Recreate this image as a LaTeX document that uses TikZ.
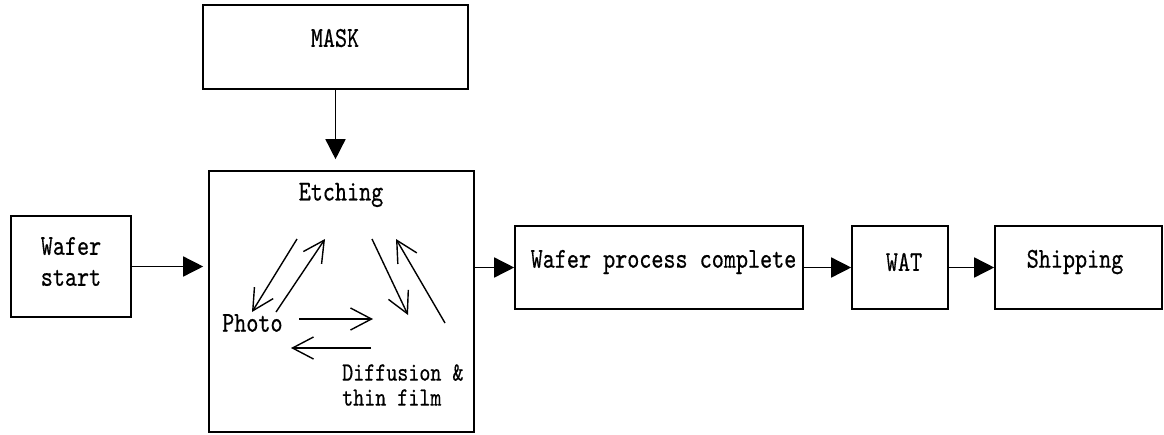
\documentclass[tikz,border=0pt]{standalone}
\usepackage{fontspec}
\newfontfamily\monof{lmmono10-regular.otf}[FakeBold=0.6]
\usetikzlibrary{arrows.meta}
\newcommand\stretchtxt[1]{\scalebox{1}[1.25]{#1}}
\tikzset{
  box/.style={draw, line width=1.6pt, inner sep=0pt, rectangle},
  lbl/.style={inner sep=0pt, font=\fontsize{23}{31}\selectfont\monof},
  flow/.style={line width=1.5pt, -{Triangle[length=20pt,width=20pt]}},
  cyc/.style={line width=1.4pt, -{Straight Barb[length=21pt,width=22pt]}}
}
\begin{document}
\begin{tikzpicture}[x=1pt,y=-1pt]
\useasboundingbox (0,0) rectangle (1164,434);
% boxes
\node[box, minimum width=265pt, minimum height=84pt] (mask) at (335.5,47) {};
\node[box, minimum width=265pt, minimum height=261pt] (etch) at (341.5,301.5) {};
\node[box, minimum width=120pt, minimum height=101pt] (start) at (71,266.5) {};
\node[box, minimum width=288pt, minimum height=83pt] (wpc) at (659,267.5) {};
\node[box, minimum width=96pt, minimum height=83pt] (wat) at (900,267.5) {};
\node[box, minimum width=167pt, minimum height=83pt] (ship) at (1078.5,267.5) {};
% texts
\node[lbl] (tmask) at (335,38) {\stretchtxt{MASK}};
\node[lbl] (tetch) at (341,195) {\stretchtxt{Etching}};
\node[lbl, align=center] (tstart) at (71,261.5) {\stretchtxt{Wafer}\\\stretchtxt{start}};
\node[lbl] (twpc) at (663.5,262) {\stretchtxt{Wafer process complete}};
\node[lbl] (twat) at (904,262) {\stretchtxt{WAT}};
\node[lbl] (tship) at (1075,262) {\stretchtxt{Shipping}};
\node[lbl, anchor=west] (tphoto) at (222,323) {\stretchtxt{Photo}};
\node[lbl, anchor=west, align=left, font=\fontsize{21}{25}\selectfont\monof] (tdiff) at (342,385) {\stretchtxt{Diffusion \&}\\\stretchtxt{thin film}};
% main flow
\draw[flow, shorten >=11pt] (mask.south) -- (etch.north -| mask.south);
\draw[flow, shorten >=5pt] (start.east) -- (start.east -| etch.west);
\draw[flow] (wpc.west -| etch.east) -- (wpc.west);
\draw[flow] (wpc.east) -- (wat.west);
\draw[flow] (wat.east) -- (ship.west);
% cycle arrows
\coordinate (e1s) at (297,239); \coordinate (e1t) at (252,312);
\coordinate (e2s) at (276,312); \coordinate (e2t) at (325,239);
\coordinate (e3s) at (372,239); \coordinate (e3t) at (408,315);
\coordinate (e4s) at (445,323); \coordinate (e4t) at (396,239);
\coordinate (e5s) at (299,319); \coordinate (e5t) at (373,319);
\coordinate (e6s) at (371,348); \coordinate (e6t) at (291,348);
\draw[cyc] (e1s) -- (e1t);
\draw[cyc] (e2s) -- (e2t);
\draw[cyc] (e3s) -- (e3t);
\draw[cyc] (e4s) -- (e4t);
\draw[cyc] (e5s) -- (e5t);
\draw[cyc] (e6s) -- (e6t);
\end{tikzpicture}
\end{document}
